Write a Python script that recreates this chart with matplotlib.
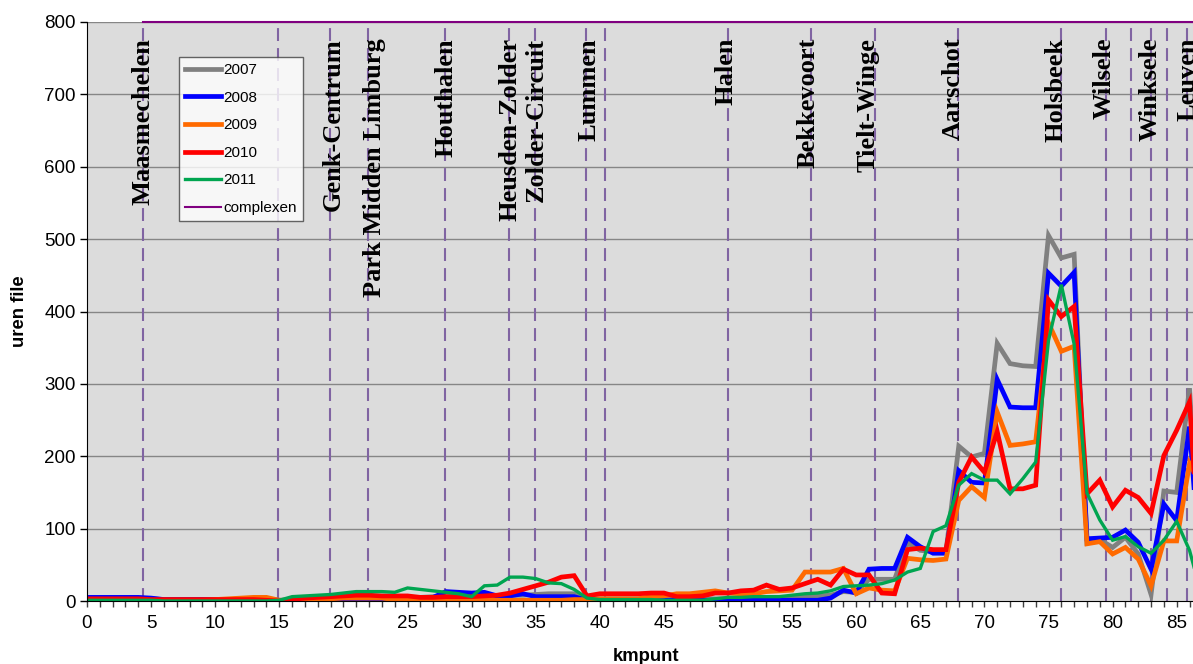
import matplotlib
matplotlib.use("Agg")
import matplotlib.pyplot as plt
import numpy as np

plt.rcParams['font.family'] = ['Liberation Sans', 'DejaVu Sans']

# kilometre points along the route
km = list(range(0, 88))

uren_2007 = [3, 3, 3, 3, 3, 3, 2, 2, 2, 2,
             2, 2, 3, 3, 3, 1, 2, 3, 3, 4,
             4, 5, 5, 5, 5, 5, 5, 6, 6, 6,
             6, 7, 7, 8, 8, 9, 10, 10, 10, 3,
             3, 3, 3, 3, 3, 3, 3, 3, 3, 3,
             3, 3, 4, 4, 4, 5, 6, 7, 8, 13,
             12, 30, 30, 30, 80, 70, 68, 68, 214, 199,
             204, 356, 328, 325, 324, 505, 474, 479, 80, 85,
             74, 88, 65, 9, 152, 150, 294, 0]

uren_2008 = [5, 5, 5, 5, 5, 4, 2, 2, 2, 2,
             2, 2, 2, 2, 2, 1, 0, 0, 1, 1,
             2, 2, 0, 0, 1, 2, 3, 5, 13, 12,
             11, 12, 7, 7, 10, 6, 6, 6, 6, 1,
             1, 1, 1, 1, 1, 1, 1, 1, 1, 1,
             1, 1, 1, 1, 1, 1, 1, 1, 4, 15,
             11, 44, 45, 45, 88, 75, 66, 66, 180, 164,
             163, 306, 268, 267, 267, 453, 435, 454, 86, 87,
             88, 98, 81, 44, 134, 111, 241, 0]

uren_2009 = [0, 0, 0, 0, 0, 0, 1, 1, 1, 1,
             2, 3, 4, 5, 5, 1, 1, 2, 3, 3,
             4, 4, 4, 4, 2, 2, 2, 2, 2, 2,
             2, 1, 1, 1, 1, 1, 1, 1, 2, 2,
             3, 3, 3, 3, 6, 7, 10, 10, 12, 14,
             11, 10, 10, 13, 14, 15, 40, 40, 40, 45,
             10, 18, 15, 14, 59, 57, 56, 58, 139, 158,
             143, 261, 215, 217, 220, 384, 345, 352, 79, 82,
             65, 74, 58, 21, 83, 83, 190, 157]

uren_2010 = [3, 3, 3, 3, 3, 2, 2, 2, 2, 2,
             2, 2, 2, 2, 1, 0, 2, 4, 5, 6,
             7, 8, 8, 7, 7, 7, 5, 5, 6, 6,
             6, 7, 8, 11, 16, 21, 26, 33, 35, 7,
             10, 10, 10, 10, 11, 11, 6, 6, 7, 11,
             11, 14, 15, 22, 16, 18, 24, 30, 22, 44,
             36, 36, 11, 10, 71, 73, 71, 71, 164, 199,
             178, 234, 155, 155, 160, 416, 393, 407, 148, 167,
             130, 153, 143, 121, 201, 236, 275, 0]

uren_2011 = [1, 1, 1, 1, 1, 1, 0, 0, 0, 0,
             0, 0, 0, 0, 0, 1, 6, 7, 8, 9,
             11, 13, 13, 13, 12, 18, 16, 14, 12, 10,
             6, 21, 22, 33, 33, 31, 25, 24, 16, 4,
             2, 2, 2, 2, 2, 1, 1, 1, 1, 3,
             5, 5, 6, 6, 6, 8, 10, 11, 14, 20,
             21, 22, 24, 29, 40, 45, 96, 104, 160, 176,
             167, 167, 148, 169, 192, 360, 437, 355, 149, 112,
             84, 89, 75, 66, 84, 110, 70, 4]

years = ['2007', '2008', '2009', '2010', '2011']
colors = ['#808080', '#0000FF', '#FF6A00', '#FF0000', '#00A550']
widths = [3.4, 3.4, 3.4, 3.4, 2.4]

# interchanges ("complexen") along the road, in km
complex_km = [4.4, 14.9, 18.95, 21.94, 27.93, 32.94, 34.92, 38.92, 40.43,
              49.97, 56.45, 61.44, 67.94, 75.98, 79.49, 81.41, 82.97, 84.22, 85.78]

place_names = ['Maasmechelen', 'Genk-Centrum', 'Park Midden Limburg', 'Houthalen',
               'Heusden-Zolder', 'Zolder-Circuit', 'Lummen', 'Halen', 'Bekkevoort',
               'Tielt-Winge', 'Aarschot', 'Holsbeek', 'Wilsele', 'Winksele', 'Leuven']
# baseline of each vertical place label, in km
place_label_km = [4.91, 19.73, 22.93, 28.53, 33.52, 35.55, 39.63, 50.37, 56.79,
                  61.47, 68.10, 76.13, 79.88, 83.46, 86.35]

y_ticks = list(range(0, 801, 100))

W, H = 1193, 664
fig = plt.figure(figsize=(W / 100, H / 100), dpi=100)
fig.patch.set_facecolor('white')

left_px, right_px, top_px, bottom_px = 87, 1217, 22, 601
ax = fig.add_axes([left_px / W, 1 - bottom_px / H,
                   (right_px - left_px) / W, (bottom_px - top_px) / H])
ax.set_facecolor('#DCDCDC')
ax.set_xlim(0, (right_px - left_px) / 12.82)
ax.set_ylim(0, 800)

# horizontal gridlines
for v in y_ticks[1:]:
    ax.axhline(v, color='#868686', lw=1.0, zorder=1)

# vertical dashed markers at each interchange
for c in complex_km:
    ax.plot([c, c], [0, 800], color='#8064A2', lw=1.5, dashes=(6.2, 3.4), zorder=2)

# series
series = [uren_2007, uren_2008, uren_2009, uren_2010, uren_2011]
for vals, lab, col, lw in zip(series, years, colors, widths):
    ax.plot(km, vals, color=col, lw=lw, label=lab, zorder=3,
            solid_joinstyle='miter')

# top line marking the interchange series
ax.plot([complex_km[0], ax.get_xlim()[1]], [800, 800], color='#800080', lw=1.5,
        label='complexen', zorder=4, clip_on=False)

# place labels
for name, xk in zip(place_names, place_label_km):
    ax.text(xk, 778, name, rotation=90, rotation_mode='anchor', ha='right',
            va='baseline', fontsize=19, fontweight='bold',
            family=['Liberation Serif', 'DejaVu Serif'], color='black', zorder=5)

# axes styling
for s in ['top', 'right']:
    ax.spines[s].set_visible(False)
ax.spines['left'].set_color('black')
ax.spines['bottom'].set_color('black')
ax.spines['left'].set_zorder(6)
ax.spines['bottom'].set_zorder(6)
ax.xaxis.set_zorder(3.5)
ax.yaxis.set_zorder(3.5)

ax.set_yticks(y_ticks)
ax.set_xticks(np.arange(0, 86, 5))
ax.set_xticks(np.arange(0, 88, 1), minor=True)
ax.tick_params(axis='y', direction='out', length=5, width=1, labelsize=13.5, pad=3)
ax.tick_params(axis='x', which='major', direction='out', length=4, width=1,
               labelsize=13.5, pad=6, color='#404040')
ax.tick_params(axis='x', which='minor', direction='out', length=4, width=1,
               color='#404040')

fig.text(19 / W, 1 - 311 / H, 'uren file', rotation=90, ha='center', va='center',
         fontsize=13.3, fontweight='bold')
fig.text(646 / W, 1 - 661 / H, 'kmpunt', ha='center', va='baseline',
         fontsize=13.3, fontweight='bold')

leg = ax.legend(loc='upper left', bbox_to_anchor=(179 / W, 1 - 57 / H),
                bbox_transform=fig.transFigure, borderaxespad=0, fontsize=11,
                frameon=True, fancybox=False, handlelength=2.35,
                handletextpad=0.15, labelspacing=0.89, borderpad=0.4)
leg.get_frame().set_edgecolor('#404040')
leg.get_frame().set_linewidth(1.0)
leg.get_frame().set_facecolor('white')
leg.set_zorder(7)

fig.savefig('out.png', dpi=100)
